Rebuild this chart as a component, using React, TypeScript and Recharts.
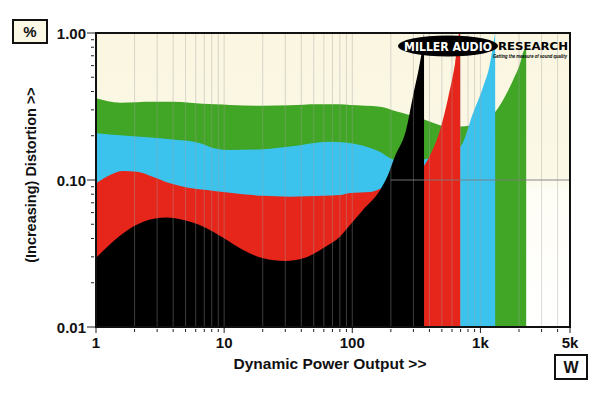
import { ComposedChart, Area, XAxis, YAxis, CartesianGrid, ReferenceLine } from 'recharts';

// power in W, distortion in %
const greenW = [1, 1.54, 2.8, 4, 5.4, 8.5, 11.1, 20.2, 32.7, 52.8, 80, 96, 165, 222, 319, 405, 547, 694, 831, 1088, 1327, 1607, 1800, 2042, 2155, 2275];
const greenPct = [0.36, 0.336, 0.34, 0.34, 0.336, 0.327, 0.324, 0.32, 0.322, 0.327, 0.327, 0.324, 0.315, 0.292, 0.268, 0.249, 0.231, 0.231, 0.235, 0.256, 0.296, 0.391, 0.479, 0.625, 0.74, 0.8];

const cyanW = [1, 1.84, 3.78, 6.5, 8.5, 11.1, 20.2, 32.7, 67, 115, 165, 216, 283, 363, 484, 694, 877, 1050, 1190, 1263, 1303];
const cyanPct = [0.208, 0.199, 0.189, 0.178, 0.164, 0.16, 0.162, 0.169, 0.182, 0.173, 0.155, 0.137, 0.136, 0.138, 0.15, 0.168, 0.286, 0.431, 0.625, 0.855, 1.0];

const redW = [1, 1.29, 1.63, 2.08, 2.8, 3.78, 5.1, 7.3, 11.1, 20.2, 32.7, 59.5, 80, 96, 138, 171, 250, 363, 400, 484, 562, 635, 686, 695];
const redPct = [0.095, 0.108, 0.115, 0.114, 0.105, 0.095, 0.089, 0.0855, 0.082, 0.078, 0.077, 0.078, 0.079, 0.0816, 0.083, 0.088, 0.1, 0.125, 0.145, 0.219, 0.369, 0.625, 1.0, 1.0];

const blackW = [1, 1.63, 2.34, 3.56, 4.8, 6.9, 9.9, 14.1, 20.2, 29.9, 41.5, 59.5, 80, 96, 121, 165, 190, 216, 263, 297, 334, 349, 363];
const blackPct = [0.0295, 0.0434, 0.052, 0.0555, 0.0534, 0.0481, 0.0403, 0.0334, 0.0293, 0.0281, 0.0293, 0.0345, 0.0411, 0.0494, 0.0625, 0.0855, 0.108, 0.146, 0.219, 0.369, 0.6, 0.75, 1.0];

const xTicks = [1, 2, 3, 4, 5, 6, 7, 8, 9, 10, 20, 30, 40, 50, 60, 70, 80, 90, 100, 200, 300, 400, 500, 600, 700, 800, 900, 1000, 2000, 3000, 4000, 5000];
const xLabels: Record<string, string> = { 1: '1', 10: '10', 100: '100', 1000: '1k', 5000: '5k' };
const yTicks = [0.01, 0.02, 0.03, 0.04, 0.05, 0.06, 0.07, 0.08, 0.09, 0.1, 0.2, 0.3, 0.4, 0.5, 0.6, 0.7, 0.8, 0.9, 1];
const yLabels: Record<string, string> = { 0.01: '0.01', 0.1: '0.10', 1: '1.00' };

const zip = (w: number[], p: number[]) => w.map((v, i) => ({ w: v, pct: p[i] }));
const green = zip(greenW, greenPct);
const cyan = zip(cyanW, cyanPct);
const red = zip(redW, redPct);
const black = zip(blackW, blackPct);

const font = '"Liberation Sans", Arial, sans-serif';
const logoFont = '"DejaVu Sans", sans-serif';

const XTick = ({ x, y, payload }: any) => {
  const label = xLabels[payload.value];
  return (
    <g>
      <line x1={x} x2={x} y1={label ? y : y + 2} y2={y + (label ? 6 : 5)} stroke="#222" />
      {label && (
        <text x={x} y={y + 21} textAnchor="middle" fontSize={15} fontWeight="bold" fill="#111" fontFamily={font}>
          {label}
        </text>
      )}
    </g>
  );
};

const YTick = ({ x, y, payload }: any) => {
  const label = yLabels[payload.value];
  return (
    <g>
      <line x1={label ? x - 9 : x - 5} x2={label ? x : x - 2} y1={y} y2={y} stroke="#222" />
      {label && (
        <text x={x - 10} y={y + 5.5} textAnchor="end" fontSize={15} fontWeight="bold" fill="#111" fontFamily={font}>
          {label}
        </text>
      )}
    </g>
  );
};

const App = () => {
  return (
    <div style={{ position: 'absolute', left: 0, top: 0, width: 600, height: 393, background: '#fff', fontFamily: font }}>
      <ComposedChart width={600} height={393} margin={{ top: 33, right: 30, bottom: 26, left: 8 }}>
        <defs>
          <linearGradient id="plotBg" x1="0" y1="0" x2="0" y2="1">
            <stop offset="0%" stopColor="#faf6e1" />
            <stop offset="49%" stopColor="#fbf8e6" />
            <stop offset="53%" stopColor="#fefdf5" />
            <stop offset="100%" stopColor="#ffffff" />
          </linearGradient>
        </defs>
        <CartesianGrid fill="url(#plotBg)" horizontal={false} vertical={false} />
        <XAxis
          type="number"
          dataKey="w"
          scale="log"
          domain={[1, 5000]}
          allowDataOverflow
          ticks={xTicks}
          interval={0}
          height={40}
          tickSize={0}
          tickMargin={0}
          axisLine={false}
          tickLine={false}
          tick={(p: any) => <XTick {...p} />}
        />
        <YAxis
          type="number"
          dataKey="pct"
          scale="log"
          domain={[0.01, 1]}
          allowDataOverflow
          ticks={yTicks}
          interval={0}
          width={88}
          tickSize={0}
          tickMargin={0}
          axisLine={false}
          tickLine={false}
          tick={(p: any) => <YTick {...p} />}
        />
        <Area data={green} dataKey="pct" type="monotone" fill="#41a526" fillOpacity={1} stroke="none" baseValue={0.01} isAnimationActive={false} />
        <Area data={cyan} dataKey="pct" type="monotone" fill="#3bc3ee" fillOpacity={1} stroke="none" baseValue={0.01} isAnimationActive={false} />
        <Area data={red} dataKey="pct" type="monotone" fill="#e6261a" fillOpacity={1} stroke="none" baseValue={0.01} isAnimationActive={false} />
        <Area data={black} dataKey="pct" type="monotone" fill="#000" fillOpacity={1} stroke="none" baseValue={0.01} isAnimationActive={false} />
        {xTicks.slice(1, -1).map((v) => (
          <ReferenceLine key={v} x={v} stroke="rgba(160,160,160,0.38)" strokeWidth={1} />
        ))}
        <ReferenceLine segment={[{ x: 200, y: 0.1 }, { x: 5000, y: 0.1 }]} stroke="rgba(125,125,125,0.9)" strokeWidth={1} />
      </ComposedChart>

      <svg width={600} height={393} style={{ position: 'absolute', left: 0, top: 0, pointerEvents: 'none' }} fontFamily={font}>
        <rect x={96} y={33} width={474} height={294} fill="none" stroke="#111" strokeWidth={2} />
        <rect x={13} y={20} width={34} height={23} fill="#fbf8e6" stroke="#111" strokeWidth={2} />
        <text x={30} y={37} textAnchor="middle" fontSize={15} fontWeight="bold" fill="#111">%</text>
        <rect x={555} y={355} width={32} height={24} fill="#fff" stroke="#111" strokeWidth={2} />
        <text x={571} y={373} textAnchor="middle" fontSize={16} fontWeight="bold" fill="#111">W</text>
        <text x={330} y={369} textAnchor="middle" fontSize={15.5} fontWeight="bold" fill="#111">Dynamic Power Output &gt;&gt;</text>
        <text transform="translate(36,175) rotate(-90)" textAnchor="middle" fontSize={14.5} fontWeight="bold" fill="#111">
          (Increasing) Distortion &gt;&gt;
        </text>
        <ellipse cx={448} cy={46} rx={50} ry={10.5} fill="#000" />
        <text x={404} y={51} fontSize={12} fontWeight={900} fill="#fff" textLength={88} lengthAdjust="spacingAndGlyphs" fontFamily={logoFont}>
          MILLER AUDIO
        </text>
        <text x={498} y={50} fontSize={11} fontWeight={900} fill="#000" textLength={70} lengthAdjust="spacingAndGlyphs" fontFamily={logoFont}>
          RESEARCH
        </text>
        <text x={493} y={58} fontSize={5} fontWeight="bold" fontStyle="italic" fill="#000" textLength={74} lengthAdjust="spacingAndGlyphs">
          Getting the measure of sound quality
        </text>
      </svg>
    </div>
  );
};

export default App;
